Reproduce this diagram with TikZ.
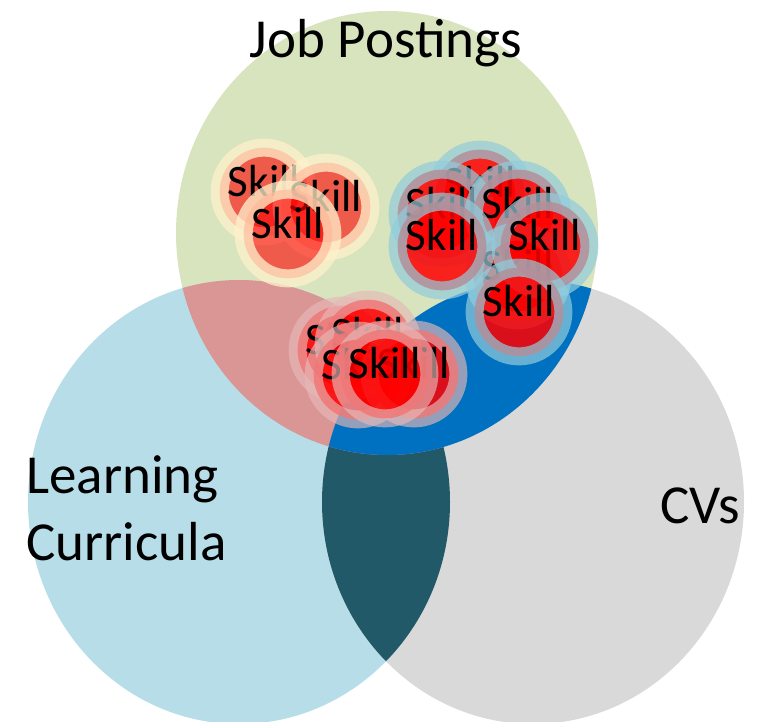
\documentclass[tikz,border=0pt]{standalone}
\usepackage{fontspec}
\setmainfont{Carlito}
\definecolor{jobgreen}{HTML}{D7E4BD}
\definecolor{learnblue}{HTML}{B7DEE8}
\definecolor{cvgray}{HTML}{D9D9D9}
\definecolor{jlpink}{HTML}{D99694}
\definecolor{jcblue}{HTML}{0070C0}
\definecolor{lcteal}{HTML}{215968}
\definecolor{creamglow}{HTML}{FFF2CC}
\definecolor{aquaglow}{HTML}{92CDDC}
\definecolor{roseglow}{HTML}{E6B9B8}

\begin{document}
\begin{tikzpicture}[x=0.5pt, y=-0.5pt,
    setlabel/.style={inner sep=0pt, font=\fontsize{27.5}{33.5}\selectfont},
    skill/.style={circle, inner sep=0pt, minimum size=44pt, fill=red, line width=9pt,
        text height=15pt, text depth=11pt, text opacity=1, font=\fontsize{22.5}{24}\selectfont},
    skilljob/.style={skill, fill opacity=0.6, draw=creamglow, draw opacity=0.75},
    skillcv/.style={skill, fill opacity=0.85, draw=aquaglow, draw opacity=0.7},
    skillmix/.style={skill, fill opacity=0.85, draw=roseglow, draw opacity=0.65}]
    \clip (0,0) rectangle (760,722);
    \useasboundingbox (0,0) rectangle (760,722);

    % Set centres
    \coordinate (jobc) at (387,233);
    \coordinate (learnc) at (239,502);
    \coordinate (cvc) at (533,502);

    % Sets
    \fill[jobgreen] (jobc) ellipse [x radius=211, y radius=222];
    \fill[learnblue] (learnc) ellipse [x radius=211, y radius=222];
    \fill[cvgray] (cvc) ellipse [x radius=211, y radius=222];

    % Curricula and CVs
    \begin{scope}
        \clip (learnc) ellipse [x radius=211, y radius=222];
        \fill[lcteal] (cvc) ellipse [x radius=211, y radius=222];
    \end{scope}
    % Job postings with the others
    \begin{scope}
        \clip (jobc) ellipse [x radius=211, y radius=222];
        \fill[jlpink] (learnc) ellipse [x radius=211, y radius=222];
        \fill[jcblue] (cvc) ellipse [x radius=211, y radius=222];
    \end{scope}

    % Labels
    \node[setlabel, anchor=base] (jobs) at (386,58) {Job Postings};
    \node[setlabel, anchor=base west, align=left] (curricula) at (26,560) {Learning\\Curricula};
    \node[setlabel, anchor=base west] (cvs) at (660,523) {CVs};

    % Skills only in job postings
    \node[skilljob] (jobskill1) at (264,192) {Skill};
    \node[skilljob] (jobskill2) at (326,207) {Skill};
    \node[skilljob] (jobskill3) at (288,234) {Skill};

    % Skills in job postings and CVs
    \node[skillcv] (cvskill1) at (480,194) {Skill};
    \node[skillcv] (cvskill2) at (442,214) {Skill};
    \node[skillcv] (cvskill3) at (518,214) {Skill};
    \node[skillcv] (cvskill4) at (518,276) {Skill};
    \node[skillcv] (cvskill5) at (442,246) {Skill};
    \node[skillcv] (cvskill6) at (545,246) {Skill};
    \node[skillcv] (cvskill7) at (519,312) {Skill};

    % Skills on the border
    \node[skillmix] (mixskill1) at (342,350) {Skill};
    \node[skillmix] (mixskill2) at (368,344) {Skill};
    \node[skillmix] (mixskill3) at (358,375) {Skill};
    \node[skillmix] (mixskill4) at (414,374) {Skill};
    \node[skillmix] (mixskill5) at (385,374) {Skill};
\end{tikzpicture}
\end{document}
